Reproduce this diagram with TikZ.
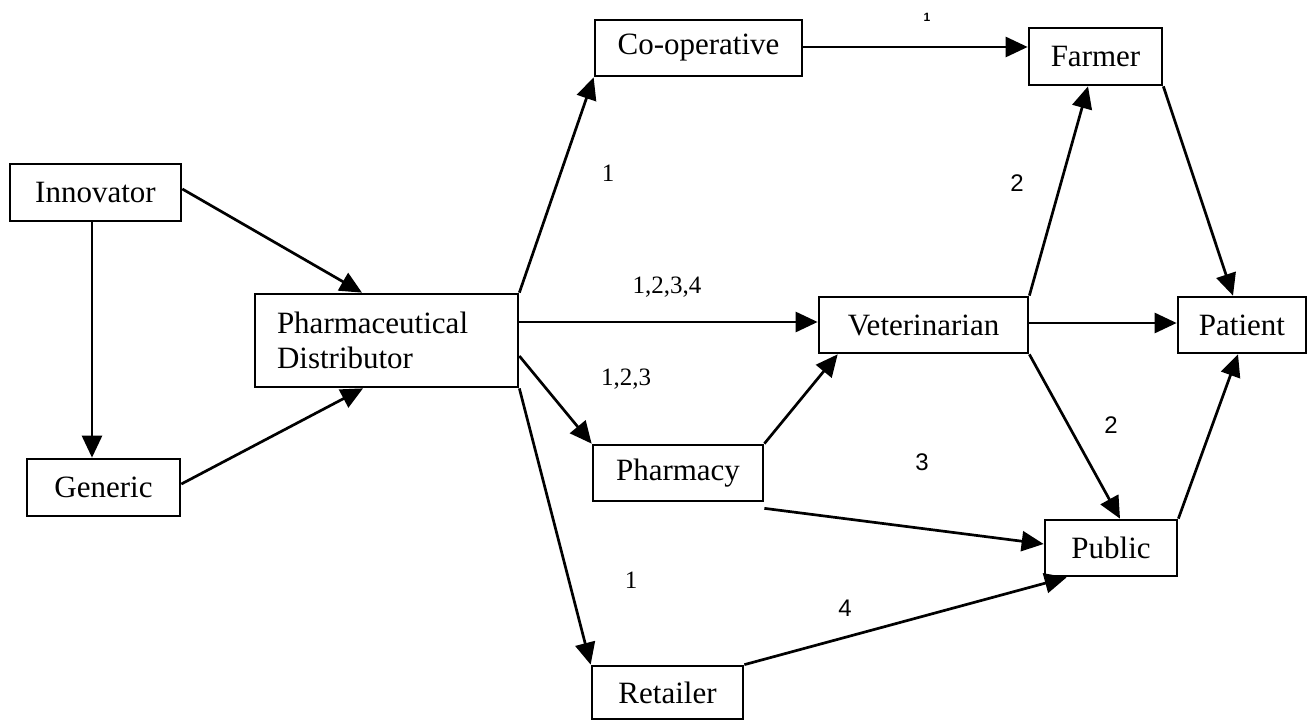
\documentclass[tikz,border=0pt]{standalone}
\usepackage{fontspec}
\setmainfont{Liberation Serif}
\newfontfamily\labsans{Liberation Sans}
\usetikzlibrary{arrows.meta}
\tikzset{
  x=1pt, y=-1pt,
  box/.style={draw, line width=2.7pt, inner sep=0pt, align=center,
    font=\fontsize{31}{35}\selectfont},
  arr/.style={line width=2.7pt, -{Triangle[length=22pt,width=20pt]}},
  labserif/.style={inner sep=0pt, text depth=0pt, font=\fontsize{25}{28}\selectfont},
  labsansstyle/.style={inner sep=0pt, text depth=0pt, font=\labsans\fontsize{24}{27}\selectfont},
  tinylab/.style={inner sep=0pt, text depth=0pt, font=\labsans\bfseries\fontsize{12}{14}\selectfont}
}
\begin{document}
\begin{tikzpicture}
\useasboundingbox (0,0) rectangle (1309,722);
% boxes
\node[box, minimum width=207pt, minimum height=56pt] (coop) at (698.5,48) {Co-operative};
\node[box, minimum width=133pt, minimum height=57pt] (farmer) at (1095.5,56.5) {Farmer};
\node[box, minimum width=171pt, minimum height=57pt] (innov) at (95.5,192.5) {Innovator};
\node[box, minimum height=93pt, text width=219pt, inner xsep=22pt, align=left] (dist) at (386.5,340.5) {Pharmaceutical\\Distributor};
\node[box, minimum width=209pt, minimum height=56pt] (vet) at (923.5,325) {Veterinarian};
\node[box, minimum width=128pt, minimum height=56pt] (patient) at (1242,325) {Patient};
\node[box, minimum width=170pt, minimum height=56pt] (pharmacy) at (678,473) {Pharmacy};
\node[box, minimum width=153pt, minimum height=57pt] (generic) at (103.5,487.5) {Generic};
\node[box, minimum width=132pt, minimum height=56pt] (public) at (1111,548) {Public};
\node[box, minimum width=151pt, minimum height=53pt] (retailer) at (667.5,692.5) {Retailer};
% connectors
\draw[arr] ([xshift=-3.5pt]innov.south) -- ([xshift=-11.5pt]generic.north);
\draw[arr] ([yshift=3.5pt]innov.east) -- ([xshift=-24.5pt]dist.north);
\draw[arr] ([yshift=3.5pt]generic.east) -- ([xshift=-23.5pt]dist.south);
\draw[arr] (dist.north east) -- (coop.south west);
\draw[arr] ([yshift=18.5pt]dist.east) -- ([yshift=3pt]vet.west);
\draw[arr] ([yshift=-15.5pt]dist.east) -- (pharmacy.north west);
\draw[arr] (dist.south east) -- (retailer.north west);
\draw[arr] ([yshift=1pt]coop.east) -- ([yshift=9.5pt]farmer.west);
\draw[arr] (vet.north east) -- ([xshift=-7.5pt]farmer.south);
\draw[arr] (farmer.south east) -- ([xshift=-9pt]patient.north);
\draw[arr] ([yshift=2pt]vet.east) -- ([yshift=2pt]patient.west);
\draw[arr] (vet.south east) -- ([xshift=9pt]public.north);
\draw[arr] (public.north east) -- ([xshift=-4pt]patient.south);
\draw[arr] (pharmacy.north east) -- ([xshift=20pt]vet.south west);
\draw[arr] ([yshift=-6pt]pharmacy.south east) -- ([yshift=4pt]public.west);
\draw[arr] (retailer.north east) -- ([xshift=23pt]public.south west);
% labels
\node[tinylab] (l1) at (927,17) {1};
\node[labserif] (l2) at (608,173) {1};
\node[labsansstyle] (l3) at (1017,183) {2};
\node[labserif] (l4) at (667,285) {1,2,3,4};
\node[labserif] (l5) at (626,377) {1,2,3};
\node[labsansstyle] (l6) at (1111,425) {2};
\node[labsansstyle] (l7) at (922,462) {3};
\node[labserif] (l8) at (631,580) {1};
\node[labsansstyle] (l9) at (845,608) {4};
\end{tikzpicture}
\end{document}
